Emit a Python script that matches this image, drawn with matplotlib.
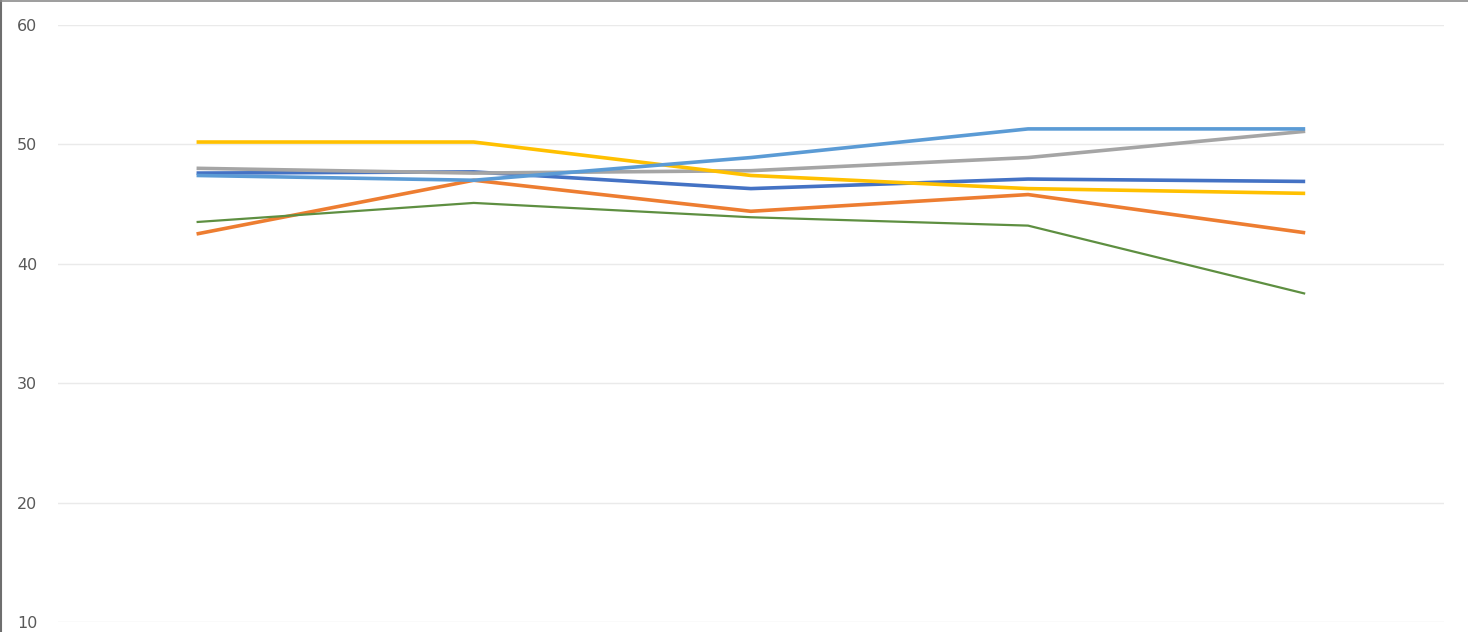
import matplotlib
matplotlib.use("Agg")
import matplotlib.pyplot as plt
from matplotlib.lines import Line2D

# data
categories = ["1", "2", "3", "4", "5"]
dark_blue = [47.6, 47.7, 46.3, 47.1, 46.9]
orange = [42.5, 47.0, 44.4, 45.8, 42.6]
gray = [48.0, 47.6, 47.8, 48.9, 51.1]
yellow = [50.2, 50.2, 47.4, 46.3, 45.9]
light_blue = [47.4, 47.0, 48.9, 51.3, 51.3]
green = [43.5, 45.1, 43.9, 43.2, 37.5]

y_ticks = [10, 20, 30, 40, 50, 60]

series = [
    (dark_blue, "#4472C4", 2.6),
    (orange, "#ED7D31", 2.6),
    (gray, "#A5A5A5", 2.6),
    (yellow, "#FFC000", 2.6),
    (light_blue, "#5B9BD5", 2.6),
    (green, "#5E8F41", 1.6),
]

fig = plt.figure(figsize=(14.68, 6.32), dpi=100)
ax = fig.add_axes([0.0395, 0.0158, 0.944, 0.9446])

x = list(range(len(categories)))
for values, color, lw in series:
    ax.plot(x, values, color=color, linewidth=lw, solid_capstyle="butt")

ax.set_xlim(-0.5, len(categories) - 0.5)
ax.set_ylim(10, 60)
ax.set_yticks(y_ticks)
ax.set_xticks([])
ax.grid(axis="y", color="#EAEAEA", linewidth=1)
ax.set_axisbelow(True)
for s in ax.spines.values():
    s.set_visible(False)
ax.tick_params(axis="y", length=0, pad=0, labelsize=11.5, labelcolor="#595959")
for lbl in ax.get_yticklabels():
    lbl.set_horizontalalignment("left")
    lbl.set_x(-0.0295)

# frame edges on the left and top of the figure
fig.add_artist(Line2D([0.0007, 0.0007], [0, 1], transform=fig.transFigure,
                      color="#6E6E6E", linewidth=1.5))
fig.add_artist(Line2D([0, 1], [0.9992, 0.9992], transform=fig.transFigure,
                      color="#8C8C8C", linewidth=1.2))

fig.savefig("out.png", dpi=100)
